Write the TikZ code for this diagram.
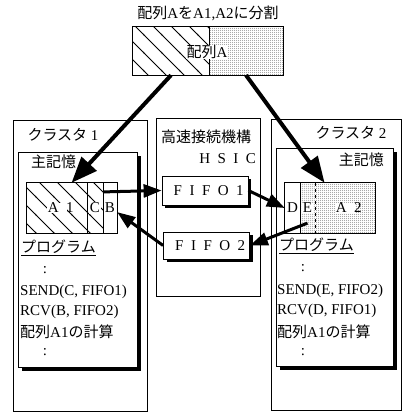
\documentclass[tikz,border=0pt]{standalone}
\usepackage{fontspec}
\setmainfont{Liberation Serif}
\newfontfamily\jp{Noto Sans CJK JP}
\newfontfamily\spaced[LetterSpace=50]{Liberation Serif}
\usetikzlibrary{arrows.meta,positioning,calc,patterns,patterns.meta,shadows}

\tikzdeclarepattern{
  name=widelines,
  type=uncolored,
  bounding box={(-1pt,-1pt) and (19pt,19pt)},
  tile size={(18pt,18pt)},
  code={\draw[line width=0.9pt] (-1pt,19pt) -- (19pt,-1pt);}
}
\tikzdeclarepattern{
  name=finedots,
  type=uncolored,
  bounding box={(0pt,0pt) and (2pt,2pt)},
  tile size={(2pt,2pt)},
  code={\fill (1pt,1pt) circle (0.55pt);}
}
% letter-spaced text, without the trailing space
\newcommand{\wide}[1]{{\spaced #1}\kern-7.5pt}

\begin{document}
\begin{tikzpicture}[
    x=1pt, y=-1pt,
    font=\fontsize{15}{18}\selectfont,
    boxline/.style={draw, line width=0.8pt, inner sep=0pt},
    memory/.style={boxline, fill=white, drop shadow={shadow xshift=4pt, shadow yshift=-4pt, fill=black, opacity=1}},
    fifo/.style={boxline, fill=white, minimum width=86pt, minimum height=29pt, drop shadow={shadow xshift=3pt, shadow yshift=-3pt, fill=black, opacity=1}},
    part/.style={inner sep=0pt, minimum height=50pt},
    hatched/.style={part, pattern=widelines},
    stippled/.style={part, pattern=finedots, pattern color=black!80},
    tag/.style={fill=white, inner sep=0.5pt},
    txt/.style={inner sep=0pt, anchor=west},
    bigarr/.style={-{Triangle[length=26pt, width=20pt]}, line width=4pt},
    arr/.style={-{Triangle[length=18pt, width=13pt]}, line width=3pt}
  ]
    \useasboundingbox (0,0) rectangle (402,413);

    % array A before splitting
    \node (title) at (208,13) {{\jp 配列}A{\jp を}A1,A2{\jp に分割}};
    \node[hatched, minimum width=76pt, minimum height=48pt] (aL) at (171,51) {};
    \node[stippled, minimum width=74pt, minimum height=48pt] (aR) at (246,51) {};
    \draw[line width=0.9pt] (aL.north west) rectangle (aR.south east);
    \draw[line width=0.9pt] (aL.north east) -- (aL.south east);
    \node[tag] (alabel) at (207,52) {{\jp 配列}A};

    % clusters and HSIC
    \node[boxline, minimum width=134pt, minimum height=291pt] (cl1) at (80,265.5) {};
    \node[boxline, minimum width=104pt, minimum height=178pt] (hsic) at (208,207) {};
    \node[boxline, minimum width=130pt, minimum height=291pt] (cl2) at (336,264.5) {};
    \node (cl1name) at (63,135) {{\jp クラスタ} 1};
    \node (cl2name) at (351,133) {{\jp クラスタ} 2};
    \node (hsicname) at (206,137) {\jp 高速接続機構};
    \node[anchor=east] (hsicabbr) at (252,159) {\wide{HSIC}};

    % main memories
    \node[memory, minimum width=119pt, minimum height=215pt] (mem1) at (77.5,259.5) {};
    \node[memory, minimum width=117pt, minimum height=218pt] (mem2) at (334.5,257) {};
    \node[txt] (mem1name) at (31,162) {\jp 主記憶};
    \node[txt, anchor=east] (mem2name) at (384,160) {\jp 主記憶};

    % array A1 in cluster 1
    \node[hatched, minimum width=60pt] (a1) at (57,208) {};
    \node[hatched, minimum width=16pt] (c) at (95,208) {};
    \node[part, minimum width=14pt] (b) at (110,208) {};
    \draw[line width=0.9pt] (a1.north west) rectangle (b.south east);
    \draw[line width=0.9pt] (a1.north east) -- (a1.south east);
    \draw[line width=0.9pt] (c.north east) -- (c.south east);
    \node[tag] at (a1) {\wide{A1}};
    \node[tag] at (c) {C};
    \node[inner sep=0pt] at (b) {B};

    % array A2 in cluster 2
    \node[part, minimum width=15pt] (d) at (292.5,208) {};
    \node[stippled, minimum width=15pt] (e) at (307.5,208) {};
    \node[stippled, minimum width=60pt] (a2) at (345,208) {};
    \draw[line width=0.9pt] (d.north west) rectangle (a2.south east);
    \draw[line width=1.2pt] (d.north east) -- (d.south east);
    \draw[line width=1.2pt, dashed] (e.north east) -- (e.south east);
    \node[inner sep=0pt] at (d) {D};
    \node[tag] at (e) {E};
    \node[tag] at (a2) {\wide{A2}};

    % programs
    \node[txt] (prog1) at (21,248) {\underline{\jp プログラム}};
    \node (dots1a) at (45,270) {:};
    \node[txt] (send1) at (20,292) {SEND(C, FIFO1)};
    \node[txt] (rcv1) at (20,312) {RCV(B, FIFO2)};
    \node[txt] (calc1) at (20,332) {{\jp 配列}A1{\jp の計算}};
    \node (dots1b) at (45,352) {:};

    \node[txt] (prog2) at (279,246) {\underline{\jp プログラム}};
    \node (dots2a) at (303,268) {:};
    \node[txt] (send2) at (277,291) {SEND(E, FIFO2)};
    \node[txt] (rcv2) at (277,311) {RCV(D, FIFO1)};
    \node[txt] (calc2) at (277,332) {{\jp 配列}A1{\jp の計算}};
    \node (dots2b) at (303,352) {:};

    % FIFOs
    \node[fifo] (fifo1) at (205,190.5) {\wide{FIFO1}};
    \node[fifo, minimum height=27pt] (fifo2) at (206.5,245.5) {\wide{FIFO2}};

    % transfers
    \draw[bigarr] (aL.south) -- (a1.60);
    \draw[bigarr] (aR.south) -- (a2.129);
    \draw[arr] (c.63) -- (fifo1.west);
    \draw[arr] (fifo1.east) -- (d.west);
    \draw[arr] ($(e.center)!0.6!(e.south)$) -- (fifo2.east);
    \draw[arr] (fifo2.west) -- (b.-30);
\end{tikzpicture}
\end{document}
